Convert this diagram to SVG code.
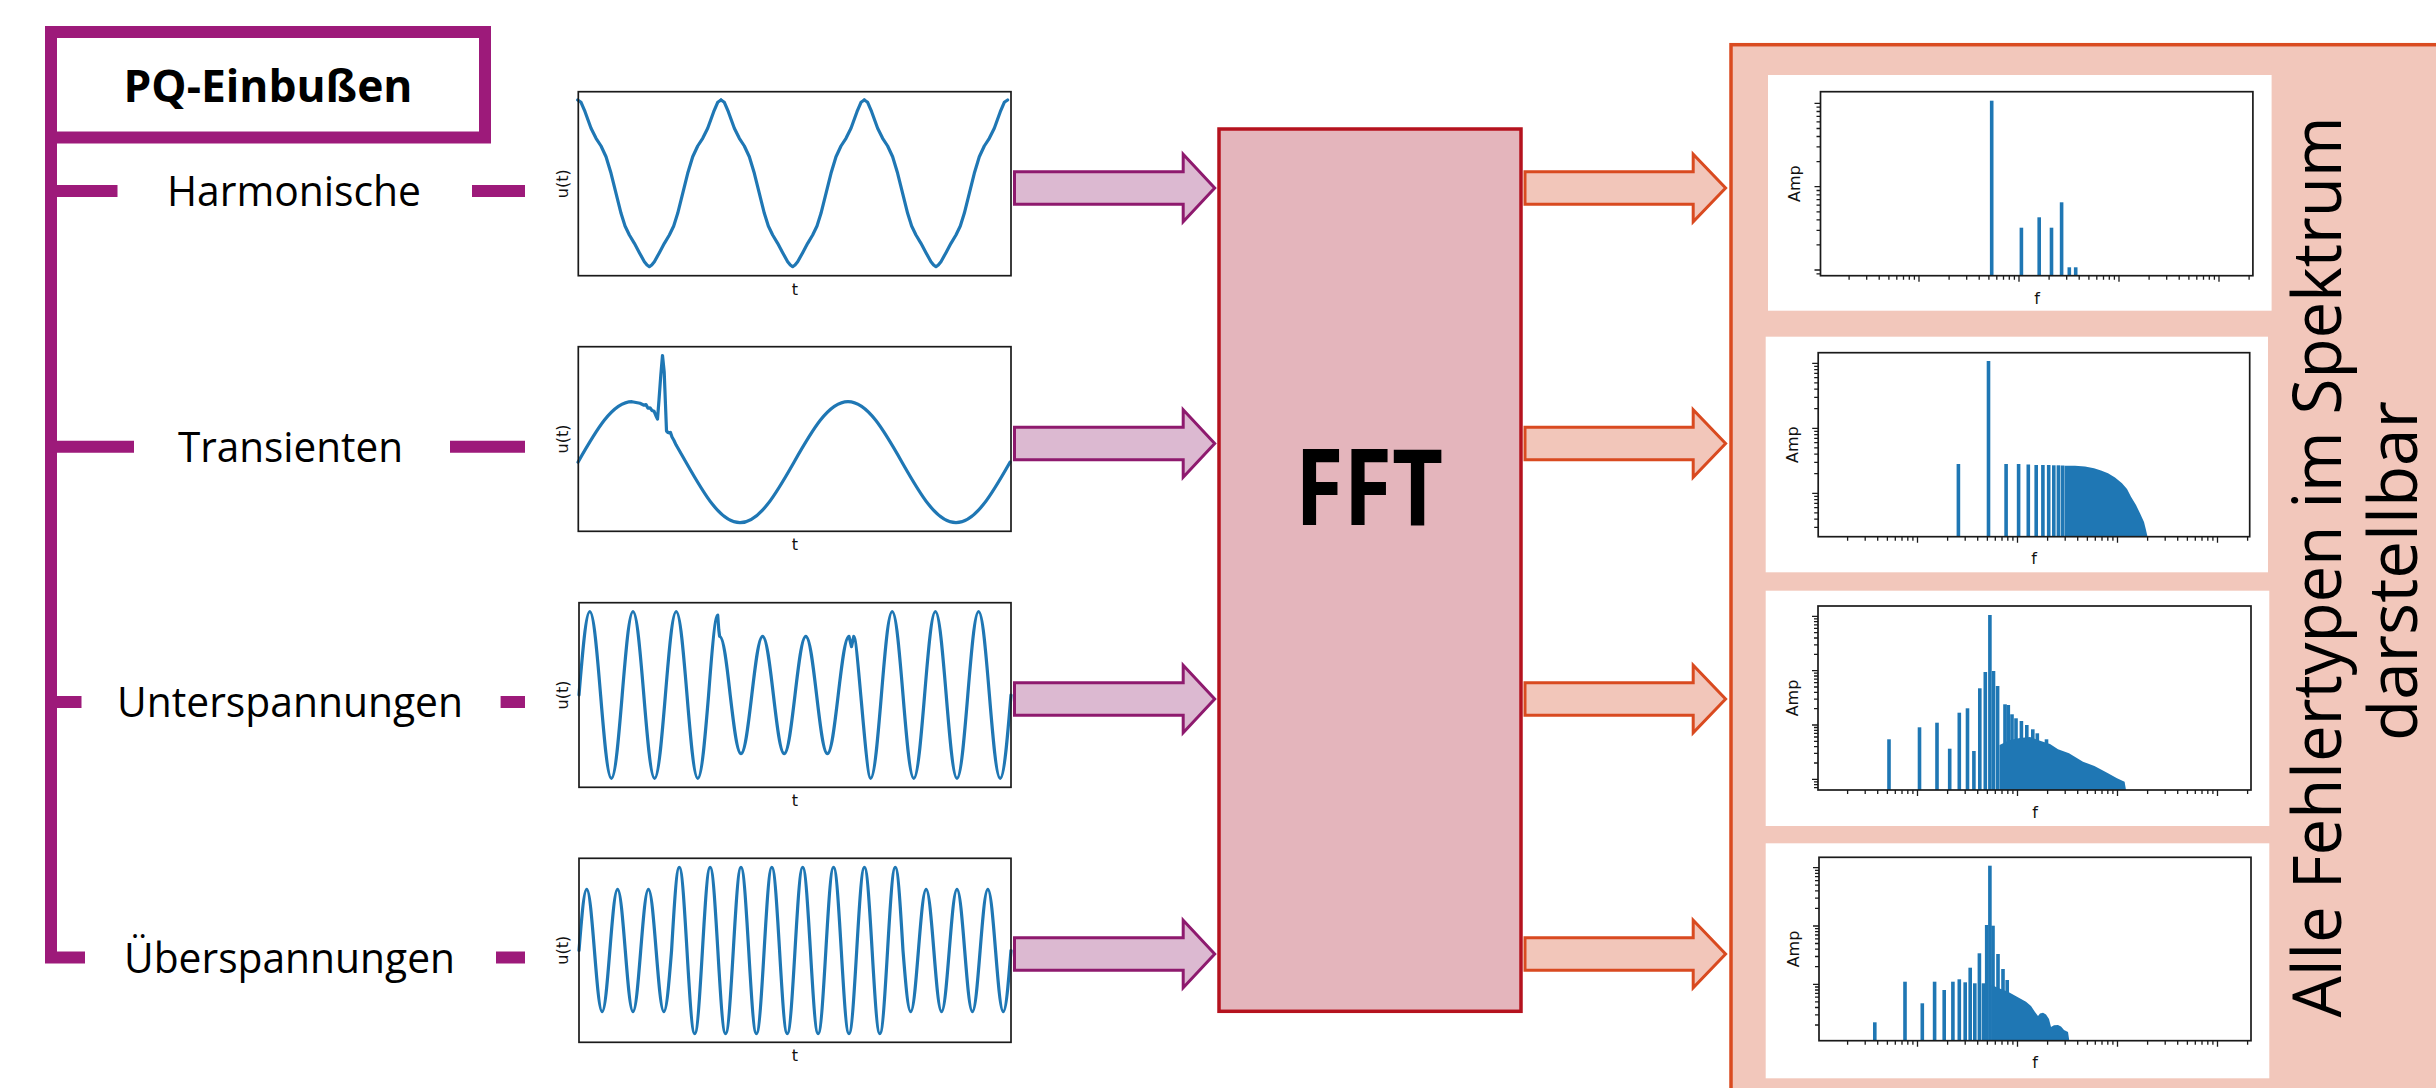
<svg xmlns="http://www.w3.org/2000/svg" xmlns:xlink="http://www.w3.org/1999/xlink" width="2436" height="1088" viewBox="0 0 2436 1088">
<style>
.lbl{font-family:"Open Sans","Noto Sans",sans-serif;font-size:42px;fill:#000}
.ttl{font-family:"Open Sans","Noto Sans",sans-serif;font-weight:700;fill:#000}
.vt{font-family:"Open Sans","Noto Sans",sans-serif;font-size:68px;fill:#000}
.ax{font-family:"DejaVu Sans","Liberation Sans",sans-serif;font-size:16px;fill:#111}
.frame{fill:none;stroke:#1a1a1a;stroke-width:1.7}
.wave{fill:none;stroke:#1f77b4;stroke-width:3.2;stroke-linejoin:round;stroke-linecap:round}
.bar{fill:#1f77b4}
.tick{fill:none;stroke:#1a1a1a;stroke-width:1.3}
.pq{fill:none;stroke:#9d1a7a;stroke-width:12}
.parrow{fill:#dcb9d1;stroke:#8e1a6e;stroke-width:3}
.oarrow{fill:#f2c6ba;stroke:#d94a20;stroke-width:3}
.wbox{fill:#fff}
</style>
<defs>
<polyline id="hp" class="wave" points="0,100 3.33,102.3 7.33,111.7 13.33,128.3 18.33,138.3 23.33,146 28.33,156.7 33.33,173.3 38.33,193.3 43.33,213.3 47.33,226 51.67,235 56.67,243.3 61.67,252.7 66.67,261.7 69.33,265 71.67,266.7 74,265 76.67,261.7 81.67,252.7 86.67,243.3 91.67,235 96,226 100,213.3 105,193.3 110,173.3 115,156.7 120,146 125,138.3 130,128.3 136,111.7 140,102.3 143.33,100"/>
<path id="xt" class="tick" d="M1847.6,0v4M1865.2,0v4M1877.7,0v4M1887.4,0v4M1895.3,0v4M1902,0v4M1907.8,0v4M1912.9,0v4M1917.5,0v6M1947.6,0v4M1965.2,0v4M1977.7,0v4M1987.4,0v4M1995.3,0v4M2002,0v4M2007.8,0v4M2012.9,0v4M2017.5,0v6M2047.6,0v4M2065.2,0v4M2077.7,0v4M2087.4,0v4M2095.3,0v4M2102,0v4M2107.8,0v4M2112.9,0v4M2117.5,0v6M2147.6,0v4M2165.2,0v4M2177.7,0v4M2187.4,0v4M2195.3,0v4M2202,0v4M2207.8,0v4M2212.9,0v4M2217.5,0v6M2247.6,0v4"/>
</defs>
<rect x="0" y="0" width="2436" height="1088" fill="#fff"/>

<g id="pq-header">
<rect x="51" y="32" width="434" height="105.5" class="pq"/>
<text class="ttl" x="268" y="102.3" font-size="45" text-anchor="middle" textLength="289" lengthAdjust="spacingAndGlyphs">PQ-Einbußen</text>
</g>

<g id="label-harmonische"><text class="lbl" x="294" y="206" text-anchor="middle" textLength="254" lengthAdjust="spacingAndGlyphs">Harmonische</text></g>
<g id="label-transienten"><text class="lbl" x="290.5" y="461.7" text-anchor="middle" textLength="225" lengthAdjust="spacingAndGlyphs">Transienten</text></g>
<g id="label-unterspannungen"><text class="lbl" x="290" y="717" text-anchor="middle" textLength="346" lengthAdjust="spacingAndGlyphs">Unterspannungen</text></g>
<g id="label-ueberspannungen"><text class="lbl" x="289.5" y="972.5" text-anchor="middle" textLength="331" lengthAdjust="spacingAndGlyphs">Überspannungen</text></g>

<g id="plot-harmonische">
<use xlink:href="#hp" x="577.7"/><use xlink:href="#hp" x="721"/><use xlink:href="#hp" x="864.3"/>
<rect class="frame" x="578.3" y="91.7" width="432.7" height="184"/>
<text class="ax" transform="translate(568,183.7) rotate(-90)" text-anchor="middle">u(t)</text>
<text class="ax" x="795" y="295" text-anchor="middle">t</text>
</g>

<g id="plot-transienten">
<path class="wave" d="M578,462.2c17.61,-31 34.46,-60.5 54,-60.5L640,403.3L644,405.2L646,404.6L648,408.2L650,407.8L652,410.4L654,411.2L656,416L657.5,419L659,400L660.8,375L662.5,355.5L664.2,372L665.5,405L666.5,431L668,432.5L669.5,433L670.5,432.5L672,437L674,440.5L676,444.8L686,462.2c17.61,31 34.46,60.5 54,60.5c19.54,0 36.39,-29.5 54,-60.5c17.61,-31 34.46,-60.5 54,-60.5c19.54,0 36.39,29.5 54,60.5c17.61,31 34.46,60.5 54,60.5c19.54,0 36.39,-29.5 54,-60.5"/>
<rect class="frame" x="578.3" y="346.7" width="432.7" height="184.6"/>
<text class="ax" transform="translate(568,439) rotate(-90)" text-anchor="middle">u(t)</text>
<text class="ax" x="795" y="550" text-anchor="middle">t</text>
</g>

<g id="plot-unterspannungen">
<path class="wave" d="M579,695c3.522,-42.67 6.891,-83.3 10.8,-83.3c3.909,0 7.278,40.63 10.8,83.3c3.522,42.67 6.891,83.3 10.8,83.3c3.909,0 7.278,-40.63 10.8,-83.3c3.522,-42.67 6.891,-83.3 10.8,-83.3c3.909,0 7.278,40.63 10.8,83.3c3.522,42.67 6.891,83.3 10.8,83.3c3.909,0 7.278,-40.63 10.8,-83.3c3.522,-42.67 6.891,-83.3 10.8,-83.3c3.909,0 7.278,40.63 10.8,83.3c3.522,42.67 6.891,83.3 10.8,83.3c3.909,0 7.278,-40.63 10.8,-83.3c3.2,-42 6.5,-80 9.1,-80L718.8,630L719.6,636.3c3.909,0 7.278,28.63 10.6,58.7c3.522,30.07 6.891,58.7 10.8,58.7c3.909,0 7.278,-28.63 10.8,-58.7c3.522,-30.07 6.891,-58.7 10.8,-58.7c3.909,0 7.278,28.63 10.8,58.7c3.522,30.07 6.891,58.7 10.8,58.7c3.909,0 7.278,-28.63 10.8,-58.7c3.522,-30.07 6.891,-58.7 10.8,-58.7c3.909,0 7.278,28.63 10.8,58.7c3.522,30.07 6.891,58.7 10.8,58.7c3.909,0 7.278,-28.63 10.8,-58.7c3.522,-30.07 6.891,-58.7 10.8,-58.7L851.5,646.7L853.8,636.3C857.5,636.3 866,778.3 870.6,778.3c3.909,0 7.278,-40.63 10.8,-83.3c3.522,-42.67 6.891,-83.3 10.8,-83.3c3.909,0 7.278,40.63 10.8,83.3c3.522,42.67 6.891,83.3 10.8,83.3c3.909,0 7.278,-40.63 10.8,-83.3c3.522,-42.67 6.891,-83.3 10.8,-83.3c3.909,0 7.278,40.63 10.8,83.3c3.522,42.67 6.891,83.3 10.8,83.3c3.909,0 7.278,-40.63 10.8,-83.3c3.522,-42.67 6.891,-83.3 10.8,-83.3c3.909,0 7.278,40.63 10.8,83.3c3.522,42.67 6.891,83.3 10.8,83.3c3.909,0 7.278,-40.63 10.8,-83.3"/>
<rect class="frame" x="579" y="602.7" width="432" height="184.6"/>
<text class="ax" transform="translate(568,695) rotate(-90)" text-anchor="middle">u(t)</text>
<text class="ax" x="795" y="806" text-anchor="middle">t</text>
</g>

<g id="plot-ueberspannungen">
<path class="wave" d="M579,950.5c2.516,-31.35 4.922,-61.2 7.714,-61.2c2.792,0 5.198,29.85 7.714,61.2c2.516,31.35 4.922,61.2 7.714,61.2c2.792,0 5.198,-29.85 7.714,-61.2c2.516,-31.35 4.922,-61.2 7.714,-61.2c2.792,0 5.198,29.85 7.714,61.2c2.516,31.35 4.922,61.2 7.714,61.2c2.792,0 5.198,-29.85 7.714,-61.2c2.516,-31.35 4.922,-61.2 7.714,-61.2c2.792,0 5.198,29.85 7.714,61.2c2.516,31.35 4.922,61.2 7.714,61.2c2.792,0 5.198,-29.85 7.714,-61.2c2.516,-42.62 4.922,-83.2 7.714,-83.2c2.792,0 5.198,40.58 7.714,83.2c2.516,42.62 4.922,83.2 7.714,83.2c2.792,0 5.198,-40.58 7.714,-83.2c2.516,-42.62 4.922,-83.2 7.714,-83.2c2.792,0 5.198,40.58 7.714,83.2c2.516,42.62 4.922,83.2 7.714,83.2c2.792,0 5.198,-40.58 7.714,-83.2c2.516,-42.62 4.922,-83.2 7.714,-83.2c2.792,0 5.198,40.58 7.714,83.2c2.516,42.62 4.922,83.2 7.714,83.2c2.792,0 5.198,-40.58 7.714,-83.2c2.516,-42.62 4.922,-83.2 7.714,-83.2c2.792,0 5.198,40.58 7.714,83.2c2.516,42.62 4.922,83.2 7.714,83.2c2.792,0 5.198,-40.58 7.714,-83.2c2.516,-42.62 4.922,-83.2 7.714,-83.2c2.792,0 5.198,40.58 7.714,83.2c2.516,42.62 4.922,83.2 7.714,83.2c2.792,0 5.198,-40.58 7.714,-83.2c2.516,-42.62 4.922,-83.2 7.714,-83.2c2.792,0 5.198,40.58 7.714,83.2c2.516,42.62 4.922,83.2 7.714,83.2c2.792,0 5.198,-40.58 7.714,-83.2c2.516,-42.62 4.922,-83.2 7.714,-83.2c2.792,0 5.198,40.58 7.714,83.2c2.516,42.62 4.922,83.2 7.714,83.2c2.792,0 5.198,-40.58 7.714,-83.2c2.516,-42.62 4.922,-83.2 7.714,-83.2c2.792,0 5.198,40.58 7.714,83.2c2.516,31.35 4.922,61.2 7.714,61.2c2.792,0 5.198,-29.85 7.714,-61.2c2.516,-31.35 4.922,-61.2 7.714,-61.2c2.792,0 5.198,29.85 7.714,61.2c2.516,31.35 4.922,61.2 7.714,61.2c2.792,0 5.198,-29.85 7.714,-61.2c2.516,-31.35 4.922,-61.2 7.714,-61.2c2.792,0 5.198,29.85 7.714,61.2c2.516,31.35 4.922,61.2 7.714,61.2c2.792,0 5.198,-29.85 7.714,-61.2c2.516,-31.35 4.922,-61.2 7.714,-61.2c2.792,0 5.198,29.85 7.714,61.2c2.516,31.35 4.922,61.2 7.714,61.2c2.792,0 5.198,-29.85 7.714,-61.2"/>
<rect class="frame" x="579" y="858.3" width="432" height="184"/>
<text class="ax" transform="translate(568,950.3) rotate(-90)" text-anchor="middle">u(t)</text>
<text class="ax" x="795" y="1060.7" text-anchor="middle">t</text>
</g>

<g id="fft">
<rect x="1219" y="129" width="302" height="882.3" fill="#e4b5bc" stroke="#b5121e" stroke-width="3.5"/>
<text class="ttl" x="1369" y="525" font-size="105" text-anchor="middle" textLength="148" lengthAdjust="spacingAndGlyphs">FFT</text>
</g>

<g id="spectrum-panel">
<rect x="1731" y="44.7" width="760" height="1100" fill="#f2c7bb" stroke="#da4b20" stroke-width="3.5"/>
<rect class="wbox" x="1768" y="75" width="503.6" height="235.7"/>
<rect class="wbox" x="1765.7" y="336.7" width="502.3" height="235.6"/>
<rect class="wbox" x="1765.7" y="590.7" width="503.6" height="235.3"/>
<rect class="wbox" x="1765.7" y="843.3" width="503.6" height="235"/>
<text class="vt" transform="translate(2341,567) rotate(-90)" text-anchor="middle" textLength="901" lengthAdjust="spacingAndGlyphs">Alle Fehlertypen im Spektrum</text>
<text class="vt" transform="translate(2417,571) rotate(-90)" text-anchor="middle" textLength="340" lengthAdjust="spacingAndGlyphs">darstellbar</text>
</g>

<g id="spectrum-harmonische">
<rect class="bar" x="1989.9" y="100.7" width="3.6" height="175"/>
<rect class="bar" x="2019.6" y="227.7" width="3.6" height="48"/>
<rect class="bar" x="2037.4" y="217.3" width="3.6" height="58.4"/>
<rect class="bar" x="2049.7" y="227.7" width="3.6" height="48"/>
<rect class="bar" x="2059.8" y="202.3" width="3.6" height="73.4"/>
<rect class="bar" x="2067.5" y="267.3" width="3.6" height="8.4"/>
<rect class="bar" x="2073.9" y="267.3" width="3.6" height="8.4"/>
<use xlink:href="#xt" transform="translate(1.5,275.7)"/>
<path class="tick" d="M1820.5,103.3h-6M1820.5,186.7h-6M1820.5,270h-6M1820.5,107.2h-4M1820.5,111.5h-4M1820.5,116.3h-4M1820.5,121.9h-4M1820.5,128.5h-4M1820.5,136.5h-4M1820.5,146.9h-4M1820.5,161.6h-4M1820.5,190.5h-4M1820.5,194.8h-4M1820.5,199.6h-4M1820.5,205.2h-4M1820.5,211.8h-4M1820.5,219.8h-4M1820.5,230.3h-4M1820.5,244.9h-4M1820.5,273.8h-4"/>
<rect class="frame" x="1820.5" y="91.7" width="432.4" height="184"/>
<text class="ax" transform="translate(1800,183.7) rotate(-90)" text-anchor="middle">Amp</text>
<text class="ax" x="2037" y="304" text-anchor="middle">f</text>
</g>

<g id="spectrum-transienten">
<rect class="bar" x="1956.6" y="464" width="3.6" height="72.7"/>
<rect class="bar" x="1986.7" y="361" width="3.6" height="175.7"/>
<rect class="bar" x="2004.3" y="464" width="3.6" height="72.7"/>
<rect class="bar" x="2016.8" y="464" width="3.6" height="72.7"/>
<rect class="bar" x="2026.5" y="464.5" width="3.6" height="72.2"/>
<rect class="bar" x="2034.4" y="465" width="3.6" height="71.7"/>
<rect class="bar" x="2041.1" y="465" width="3.6" height="71.7"/>
<rect class="bar" x="2046.9" y="465" width="3.6" height="71.7"/>
<rect class="bar" x="2052" y="465.3" width="3.6" height="71.4"/>
<rect class="bar" x="2056.6" y="465.3" width="3.6" height="71.4"/>
<rect class="bar" x="2060.7" y="465.5" width="3.6" height="71.2"/>
<polygon class="bar" points="2064.5,536.7 2064.5,465.7 2075,465.8 2085,466.5 2094,468.3 2101,470.5 2108,473.3 2115,477.5 2122,483.3 2127,489 2131,496.7 2136,505 2140,513.3 2144,522 2146,530 2147.5,536.7"/>
<use xlink:href="#xt" transform="translate(0,536.7)"/>
<path class="tick" d="M1818.2,363.3h-6M1818.2,428.3h-6M1818.2,493.3h-6M1818.2,366.3h-4M1818.2,369.6h-4M1818.2,373.4h-4M1818.2,377.7h-4M1818.2,382.9h-4M1818.2,389.2h-4M1818.2,397.3h-4M1818.2,408.7h-4M1818.2,431.3h-4M1818.2,434.6h-4M1818.2,438.4h-4M1818.2,442.7h-4M1818.2,447.9h-4M1818.2,454.2h-4M1818.2,462.3h-4M1818.2,473.7h-4M1818.2,496.3h-4M1818.2,499.6h-4M1818.2,503.4h-4M1818.2,507.7h-4M1818.2,512.9h-4M1818.2,519.2h-4M1818.2,527.3h-4"/>
<rect class="frame" x="1818.2" y="352.7" width="431.5" height="184"/>
<text class="ax" transform="translate(1798,444.7) rotate(-90)" text-anchor="middle">Amp</text>
<text class="ax" x="2034" y="564.3" text-anchor="middle">f</text>
</g>

<g id="spectrum-unterspannungen">
<rect class="bar" x="1887.2" y="739.3" width="3.6" height="50.7"/>
<rect class="bar" x="1917.7" y="727.3" width="3.6" height="62.7"/>
<rect class="bar" x="1935.2" y="722.7" width="3.6" height="67.3"/>
<rect class="bar" x="1947.9" y="748.7" width="3.6" height="41.3"/>
<rect class="bar" x="1957.5" y="712.7" width="3.6" height="77.3"/>
<rect class="bar" x="1965.7" y="708.3" width="3.6" height="81.7"/>
<rect class="bar" x="1972.1" y="751" width="3.6" height="39"/>
<rect class="bar" x="1978" y="688.3" width="3.6" height="101.7"/>
<rect class="bar" x="1983.5" y="672" width="3.6" height="118"/>
<rect class="bar" x="1988.1" y="615" width="3.6" height="175"/>
<rect class="bar" x="1991.7" y="671" width="3.6" height="119"/>
<rect class="bar" x="1995.8" y="686" width="3.6" height="104"/>
<rect class="bar" x="2003.2" y="704.3" width="3.6" height="85.7"/>
<rect class="bar" x="2006.5" y="705" width="3.6" height="85"/>
<rect class="bar" x="2010.2" y="714.3" width="3.6" height="75.7"/>
<rect class="bar" x="2014.2" y="718.3" width="3.6" height="71.7"/>
<rect class="bar" x="2019.6" y="721" width="3.6" height="69"/>
<rect class="bar" x="2025" y="725" width="3.6" height="65"/>
<rect class="bar" x="2031" y="729.3" width="3.6" height="60.7"/>
<rect class="bar" x="2035.5" y="733.3" width="3.6" height="56.7"/>
<rect class="bar" x="2044.7" y="739.3" width="3.6" height="50.7"/>
<polygon class="bar" points="1999.5,790 1999.5,745 2010,740 2020,738 2030,737 2040,740.7 2050,744 2058,749.3 2069,753.3 2076,757.5 2083,761.7 2094.4,766 2101,769.5 2108,773.3 2117,778.3 2124.6,781.7 2126,790"/>
<use xlink:href="#xt" transform="translate(0,790)"/>
<path class="tick" d="M1818,616.4h-6M1818,670.7h-6M1818,725h-6M1818,779.3h-6M1818,618.9h-4M1818,621.7h-4M1818,624.8h-4M1818,628.4h-4M1818,632.7h-4M1818,638h-4M1818,644.8h-4M1818,654.4h-4M1818,673.2h-4M1818,676h-4M1818,679.1h-4M1818,682.7h-4M1818,687h-4M1818,692.3h-4M1818,699.1h-4M1818,708.7h-4M1818,727.5h-4M1818,730.3h-4M1818,733.4h-4M1818,737h-4M1818,741.3h-4M1818,746.6h-4M1818,753.4h-4M1818,763h-4M1818,781.8h-4M1818,784.6h-4M1818,787.7h-4"/>
<rect class="frame" x="1818" y="606" width="433" height="184"/>
<text class="ax" transform="translate(1798,698) rotate(-90)" text-anchor="middle">Amp</text>
<text class="ax" x="2035" y="818.3" text-anchor="middle">f</text>
</g>

<g id="spectrum-ueberspannungen">
<rect class="bar" x="1873" y="1022.3" width="3.6" height="18.4"/>
<rect class="bar" x="1903.2" y="981.7" width="3.6" height="59"/>
<rect class="bar" x="1920.5" y="1003.3" width="3.6" height="37.4"/>
<rect class="bar" x="1932.8" y="981.7" width="3.6" height="59"/>
<rect class="bar" x="1942.4" y="990" width="3.6" height="50.7"/>
<rect class="bar" x="1951.1" y="981.7" width="3.6" height="59"/>
<rect class="bar" x="1957.5" y="979.3" width="3.6" height="61.4"/>
<rect class="bar" x="1963.4" y="982.3" width="3.6" height="58.4"/>
<rect class="bar" x="1968.4" y="967.7" width="3.6" height="73"/>
<rect class="bar" x="1973" y="983.3" width="3.6" height="57.4"/>
<rect class="bar" x="1977.6" y="953.3" width="3.6" height="87.4"/>
<rect class="bar" x="1981.7" y="983.3" width="3.6" height="57.4"/>
<rect class="bar" x="1984.9" y="925" width="3.6" height="115.7"/>
<rect class="bar" x="1988.1" y="865.7" width="3.6" height="175"/>
<rect class="bar" x="1991.2" y="925.7" width="3.6" height="115"/>
<rect class="bar" x="1996.2" y="954" width="3.6" height="86.7"/>
<rect class="bar" x="2001.2" y="969" width="3.6" height="71.7"/>
<rect class="bar" x="2005.4" y="980" width="3.6" height="60.7"/>
<polygon class="bar" points="1991.5,1040.7 1991.5,985 1999,988.3 2008,991.7 2017,996.7 2026,1001.7 2031,1006 2035,1012 2038,1016 2040,1013.5 2043,1012.8 2046,1014.5 2049,1019 2051,1027 2054,1025.3 2058,1025 2061,1026.5 2064,1030 2068,1032 2069.3,1040.7"/>
<use xlink:href="#xt" transform="translate(0,1040.7)"/>
<path class="tick" d="M1819,867.7h-6M1819,926h-6M1819,984.3h-6M1819,870.4h-4M1819,873.4h-4M1819,876.7h-4M1819,880.6h-4M1819,885.2h-4M1819,890.9h-4M1819,898.2h-4M1819,908.4h-4M1819,928.7h-4M1819,931.7h-4M1819,935h-4M1819,938.9h-4M1819,943.5h-4M1819,949.2h-4M1819,956.5h-4M1819,966.7h-4M1819,987h-4M1819,990h-4M1819,993.3h-4M1819,997.2h-4M1819,1001.8h-4M1819,1007.5h-4M1819,1014.8h-4M1819,1025h-4"/>
<rect class="frame" x="1819" y="857.3" width="432" height="183.4"/>
<text class="ax" transform="translate(1799,949) rotate(-90)" text-anchor="middle">Amp</text>
<text class="ax" x="2035" y="1068.3" text-anchor="middle">f</text>
</g>

<g id="connectors">
<path class="pq" d="M51,137V957.5H85"/>
<path class="pq" d="M51,191H117.5M472,191H525M51,446.7H134M450,446.7H525M51,702H81.5M500.6,702H525M496,957.5H525"/>
<polygon class="parrow" points="1014.5,171.8 1183.2,171.8 1183.2,154.3 1214.7,188 1183.2,221.7 1183.2,204.2 1014.5,204.2"/>
<polygon class="parrow" points="1014.5,427.3 1183.2,427.3 1183.2,409.8 1214.7,443.5 1183.2,477.2 1183.2,459.7 1014.5,459.7"/>
<polygon class="parrow" points="1014.5,682.8 1183.2,682.8 1183.2,665.3 1214.7,699 1183.2,732.7 1183.2,715.2 1014.5,715.2"/>
<polygon class="parrow" points="1014.5,937.8 1183.2,937.8 1183.2,920.3 1214.7,954 1183.2,987.7 1183.2,970.2 1014.5,970.2"/>
<polygon class="oarrow" points="1525,171.8 1693.2,171.8 1693.2,154.3 1725.6,188 1693.2,221.7 1693.2,204.2 1525,204.2"/>
<polygon class="oarrow" points="1525,427.3 1693.2,427.3 1693.2,409.8 1725.6,443.5 1693.2,477.2 1693.2,459.7 1525,459.7"/>
<polygon class="oarrow" points="1525,682.8 1693.2,682.8 1693.2,665.3 1725.6,699 1693.2,732.7 1693.2,715.2 1525,715.2"/>
<polygon class="oarrow" points="1525,937.8 1693.2,937.8 1693.2,920.3 1725.6,954 1693.2,987.7 1693.2,970.2 1525,970.2"/>
</g>
</svg>
